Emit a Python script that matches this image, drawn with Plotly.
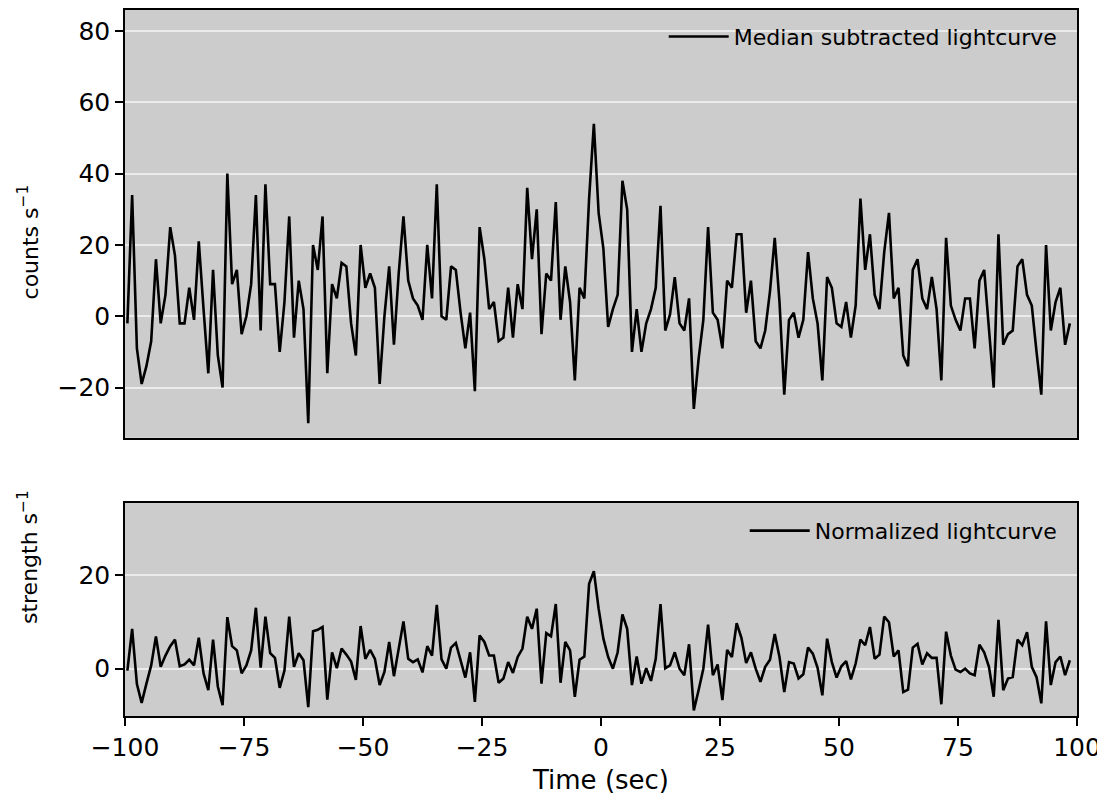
import numpy as np
import plotly.graph_objects as go

# time bins (sec)
time = [-99.5 + i for i in range(199)]

median_subtracted = [
    -2, 34, -9, -19, -14, -7, 16, -2, 6, 25, 17, -2, -2, 8, -1, 21, 2, -16, 13, -11,
    -20, 40, 9, 13, -5, 0, 9, 34, -4, 37, 9, 9, -10, 4, 28, -6, 10, 2, -30, 20,
    13, 28, -16, 9, 5, 15, 14, -2, -11, 20, 8, 12, 8, -19, 0, 14, -8, 12, 28, 10,
    5, 3, -1, 20, 5, 37, 0, -1, 14, 13, 1, -9, 1, -21, 25, 16, 2, 4, -7, -6,
    8, -6, 9, 2, 36, 16, 30, -5, 12, 10, 32, -1, 14, 4, -18, 8, 5, 33, 54, 29,
    19, -3, 2, 6, 38, 30, -10, 2, -10, -2, 2, 8, 31, -4, 0.5, 11, -2, -4, 5, -26,
    -12, -1, 25, 1, -1, -9, 10, 8, 23, 23, 1, 10, -7, -9, -4, 7, 22, 4, -22, -1,
    1, -6, -1, 18, 5, -2, -18, 11, 8, -2, -3, 4, -6, 3, 33, 13, 23, 6, 2, 18,
    29, 5, 8, -11, -14, 13, 16, 5, 2, 11, 2, -18, 22, 3, -1, -4, 5, 5, -9, 10,
    13, -3, -20, 23, -8, -5, -4, 14, 16, 6, 3, -10, -22, 20, -4, 4, 8, -8, -2,
]

normalized = [
    -0.4, 8.5, -3.3, -7.3, -3.2, 0.7, 6.9, 0.4, 2.8, 4.8, 6.2, 0.5, 0.9, 1.9, 0.7, 6.6, -1, -4.6, 6.2, -3.8,
    -7.8, 11, 4.8, 3.9, -1, 0.7, 3.9, 13, 0.2, 11.1, 3.3, 2.3, -4.1, -0.4, 11.1, 0.4, 3.3, 1.8, -8.2, 8,
    8.3, 8.9, -6.6, 3.5, 0.1, 4.3, 3, 1.5, -2.4, 9.1, 2.1, 4, 2.1, -3.5, -0.7, 5.7, -1.6, 4.6, 10.1, 2.1,
    1.4, 2, -0.8, 4.8, 2.8, 13.6, 2, 0, 4.5, 5.5, 1.8, -1.9, 3.5, -7.1, 7.1, 5.7, 2.8, 2.8, -3, -2.1,
    1.4, -0.9, 2.5, 4.3, 11.1, 8.5, 12.8, -3.2, 7.6, 6.9, 13.8, -3, 5.7, 3.9, -6, 1.9, 2.6, 18.1, 20.8, 12.8,
    6.4, 2.5, 0, 3.5, 11.6, 8.5, -3.5, 2.6, -3.2, 0.1, -2.6, 2.1, 13.8, 0.1, 0.7, 3.5, 0, -1.4, 5.2, -8.9,
    -4.6, 0, 9.4, -1.4, 0.9, -6.7, 4, 2.5, 9.7, 6.6, 1.2, 3.5, 0, -2.8, 0.4, 1.9, 7.4, 2.5, -5, 1.4,
    1.1, -2.1, -1.2, 4.5, 3.2, 0.2, -5.7, 6.4, 1.4, -1.9, 0.5, 1.6, -2.3, 1.1, 6.2, 5, 8.9, 2.1, 3, 11.1,
    9.9, 2.6, 3.9, -5, -4.5, 4.5, 5.3, 0.9, 3.3, 2.3, 2.3, -7.6, 7.9, 2.8, -0.2, -0.7, 0, -1, -1.4, 5.1,
    3.5, 0.4, -6, 10.4, -4.6, -2.1, -1.8, 6.2, 5, 7.8, 0.4, -1.8, -7.4, 10.1, -3.5, 1.4, 2.6, -1.4, 1.8,
]

x_ticks = [-100, -75, -50, -25, 0, 25, 50, 75, 100]

FONT = "DejaVu Sans"
BG = "#cccccc"
GRID = "#ebebeb"

fig = go.Figure()
fig.add_trace(go.Scatter(x=time, y=median_subtracted, mode="lines",
                         line=dict(color="black", width=2.6),
                         name="Median subtracted lightcurve",
                         xaxis="x", yaxis="y", legend="legend"))
fig.add_trace(go.Scatter(x=time, y=normalized, mode="lines",
                         line=dict(color="black", width=2.6),
                         name="Normalized lightcurve",
                         xaxis="x2", yaxis="y2", legend="legend2"))

axis_common = dict(showline=True, mirror=True, linecolor="black", linewidth=1.5,
                   ticks="outside", ticklen=8, tickwidth=1.5, tickcolor="black",
                   tickfont=dict(family=FONT, size=25, color="black"),
                   zeroline=False)

fig.update_layout(
    width=1097, height=791,
    margin=dict(l=117, r=28, t=0, b=83),
    paper_bgcolor="white",
    plot_bgcolor=BG,
    font=dict(family=FONT, color="black"),
    xaxis=dict(domain=[0, 1], range=[-100, 100], anchor="y", showticklabels=False,
               ticks="", showgrid=False, showline=True, mirror=True, linecolor="black",
               linewidth=1.5, zeroline=False, matches="x2"),
    yaxis=dict(domain=[0.394, 1], range=[-34.1, 85.9], tickvals=[-20, 0, 20, 40, 60, 80],
               showgrid=True, gridcolor=GRID, gridwidth=1.5, **axis_common),
    xaxis2=dict(domain=[0, 1], range=[-100, 100], anchor="y2", tickvals=x_ticks,
                showgrid=False,
                title=dict(text="Time (sec)", font=dict(family=FONT, size=26), standoff=10),
                **axis_common),
    yaxis2=dict(domain=[0, 0.302], range=[-10.1, 35.4], tickvals=[0, 20],
                showgrid=True, gridcolor=GRID, gridwidth=1.5, **axis_common),
    legend=dict(x=0.985, y=0.992, xanchor="right", yanchor="top", itemwidth=60,
                bgcolor="rgba(0,0,0,0)", font=dict(family=FONT, size=22)),
    legend2=dict(x=0.985, y=0.292, xanchor="right", yanchor="top", itemwidth=60,
                 bgcolor="rgba(0,0,0,0)", font=dict(family=FONT, size=22)),
    showlegend=True,
    annotations=[
        dict(text="counts s<sup>−1</sup>", xref="paper", yref="paper",
             x=-0.102, y=0.672, xanchor="center", yanchor="middle", textangle=-90,
             showarrow=False, font=dict(family=FONT, size=22, color="black")),
        dict(text="strength s<sup>−1</sup>", xref="paper", yref="paper",
             x=-0.102, y=0.225, xanchor="center", yanchor="middle", textangle=-90,
             showarrow=False, font=dict(family=FONT, size=22, color="black")),
    ],
)

fig.write_html("out.html")
